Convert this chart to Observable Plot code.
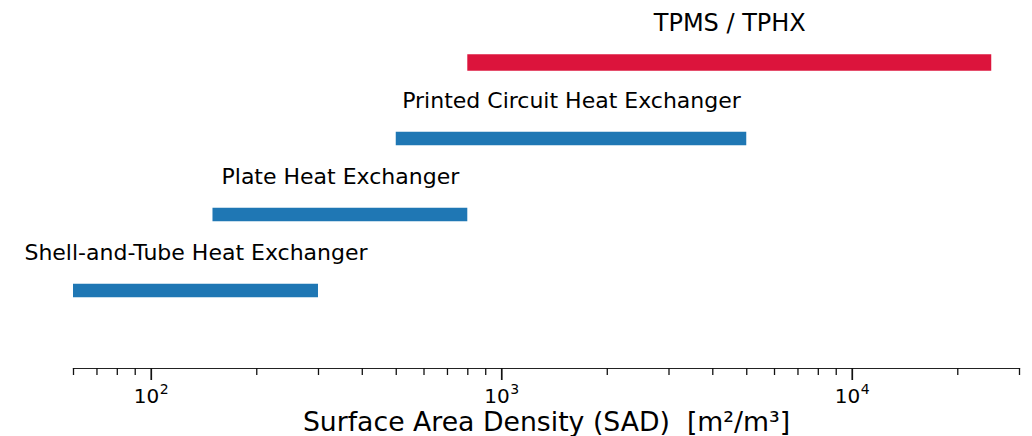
<!DOCTYPE html>
<html>
<head>
<meta charset="utf-8">
<script src="https://cdn.jsdelivr.net/npm/d3@7"></script>
<script src="https://cdn.jsdelivr.net/npm/@observablehq/plot@0.6"></script>
<style>
  html, body { margin: 0; padding: 0; background: #fff; }
  #chart svg { display: block; }
</style>
</head>
<body>
<div id="chart"></div>
<script>
// ---- data ----
const categories = [
  "Shell-and-Tube Heat Exchanger",
  "Plate Heat Exchanger",
  "Printed Circuit Heat Exchanger",
  "TPMS / TPHX"
];
const sadMin = [60, 150, 500, 800];
const sadMax = [300, 800, 5000, 25000];
const groups = ["conventional", "conventional", "conventional", "tpms"];

const majorTicks = [100, 1000, 10000];
const tickBase = "10";
const tickExponents = ["2", "3", "4"];
const minorTicks = [60, 70, 80, 90, 200, 300, 400, 500, 600, 700, 800, 900,
  2000, 3000, 4000, 5000, 6000, 7000, 8000, 9000, 20000, 30000];
const xDomain = [60, 30000];
const xLabel = "Surface Area Density (SAD)  [m²/m³]";

const rows = categories.map((name, i) => ({
  name, lo: sadMin[i], hi: sadMax[i], group: groups[i],
  mid: Math.sqrt(sadMin[i] * sadMax[i])
}));
const conv = rows.filter(d => d.group === "conventional");
const tpms = rows.filter(d => d.group === "tpms");
const tickRows = majorTicks.map((v, i) => ({ v, base: tickBase, exp: tickExponents[i] }));

const chart = Plot.plot({
  width: 1032,
  height: 436,
  marginLeft: 73,
  marginRight: 13,
  marginTop: 0,
  marginBottom: 68,
  style: { fontFamily: "DejaVu Sans", background: "white", color: "#000" },
  x: { type: "log", domain: xDomain },
  y: { type: "point", domain: [...categories].reverse(), range: [61, 291.5], padding: 0, axis: null },
  color: { domain: ["conventional", "tpms"], range: ["#1f77b4", "#dc143c"] },
  marks: [
    Plot.frame({ anchor: "bottom", stroke: "#222", strokeWidth: 1.2 }),
    Plot.axisX({ ticks: minorTicks, tickSize: 7, tickFormat: () => "", strokeWidth: 1.3, stroke: "#111", label: null }),
    Plot.axisX({ ticks: majorTicks, tickSize: 12, tickFormat: () => "", strokeWidth: 1.7, stroke: "#111", label: null }),
    Plot.text(tickRows, { x: "v", text: "base", frameAnchor: "bottom", textAnchor: "end", lineAnchor: "bottom", dx: 8, dy: 34, fontSize: 20, fill: "#000" }),
    Plot.text(tickRows, { x: "v", text: "exp", frameAnchor: "bottom", textAnchor: "start", lineAnchor: "bottom", dx: 8.5, dy: 25.5, fontSize: 14, fill: "#000" }),
    Plot.text([xLabel], { frameAnchor: "bottom", dy: 62, lineAnchor: "bottom", fontSize: 26.7, fill: "#000" }),
    Plot.ruleY(conv, { y: "name", x1: "lo", x2: "hi", stroke: "group", strokeWidth: 13.3, strokeLinecap: "butt" }),
    Plot.ruleY(tpms, { y: "name", x1: "lo", x2: "hi", stroke: "group", strokeWidth: 16.7, strokeLinecap: "butt" }),
    Plot.text(conv, { x: "mid", y: "name", text: "name", dy: -31, lineAnchor: "bottom", textAnchor: "middle", fontSize: 22, fill: "#000" }),
    Plot.text(tpms, { x: "mid", y: "name", text: "name", dy: -32, lineAnchor: "bottom", textAnchor: "middle", fontSize: 24, fill: "#000" })
  ]
});
document.getElementById("chart").appendChild(chart);
</script>
</body>
</html>
